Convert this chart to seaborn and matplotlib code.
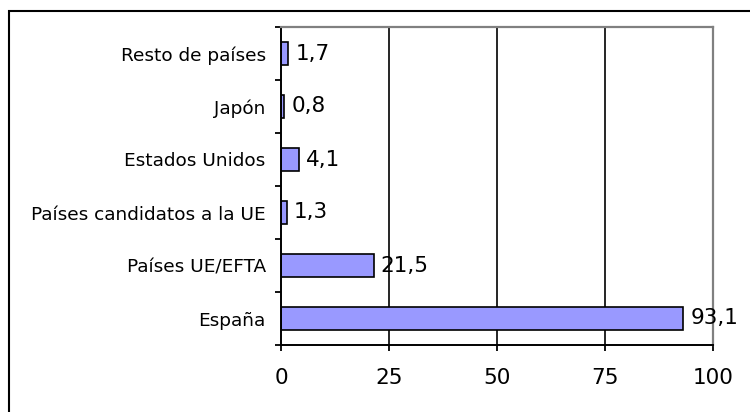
import numpy as np
import pandas as pd
import matplotlib
matplotlib.use("Agg")
import matplotlib.pyplot as plt
import seaborn as sns

categorias = ['Resto de países', 'Japón', 'Estados Unidos',
              'Países candidatos a la UE', 'Países UE/EFTA', 'España']
valores = [1.7, 0.8, 4.1, 1.3, 21.5, 93.1]
xticks = [0, 25, 50, 75, 100]

sns.set_style("white")
plt.rcParams['font.family'] = ['DejaVu Sans']
plt.rcParams['text.color'] = 'black'
plt.rcParams['xtick.color'] = 'black'
plt.rcParams['ytick.color'] = 'black'
plt.rcParams['xtick.labelcolor'] = 'black'
plt.rcParams['ytick.labelcolor'] = 'black'

df = pd.DataFrame({'pais': categorias, 'valor': valores})

fig = plt.figure(figsize=(7.5, 4.12), dpi=100)
ax = fig.add_axes([281 / 750, 1 - 345 / 412, (713 - 281) / 750, (345 - 27) / 412])

sns.barplot(data=df, x='valor', y='pais', orient='h', color='#9999FF',
            saturation=1, width=0.43, edgecolor='black', linewidth=1.2, ax=ax)

ax.set_xlim(0, 100)
ax.set_ylim(5.5, -0.5)
ax.set_xlabel('')
ax.set_ylabel('')
ax.set_xticks(xticks)
ax.set_xticklabels([str(v) for v in xticks])

# grid
ax.set_axisbelow(True)
for v in xticks[1:-1]:
    ax.axvline(v, color='black', lw=1.2, zorder=0)

# spines
for s in ['left', 'bottom']:
    ax.spines[s].set_color('black')
    ax.spines[s].set_linewidth(1.4)
for s in ['top', 'right']:
    ax.spines[s].set_color('#808080')
    ax.spines[s].set_linewidth(1.6)

# ticks: y labels at centers, tick marks between categories
ax.set_yticks(np.arange(-0.5, 6, 1.0), minor=True)
ax.tick_params(axis='y', which='major', length=0, pad=11, labelsize=13.3)
ax.tick_params(axis='y', which='minor', length=4, width=1.3, direction='out', left=True)
ax.tick_params(axis='x', which='major', length=4.5, width=1.3, direction='out',
               pad=12, labelsize=15.5, bottom=True)

labels = [f"{v:.1f}".replace('.', ',') for v in valores]
ax.bar_label(ax.containers[0], labels=labels, padding=5, fontsize=15.5)

# outer frame (cropped on right/bottom)
fig.add_artist(plt.Rectangle((9 / 750, -0.2), 1.2, 1.2 - 11 / 412,
                             transform=fig.transFigure, fill=False,
                             edgecolor='black', lw=1.5, clip_on=False))

fig.savefig('out.png', dpi=100)
